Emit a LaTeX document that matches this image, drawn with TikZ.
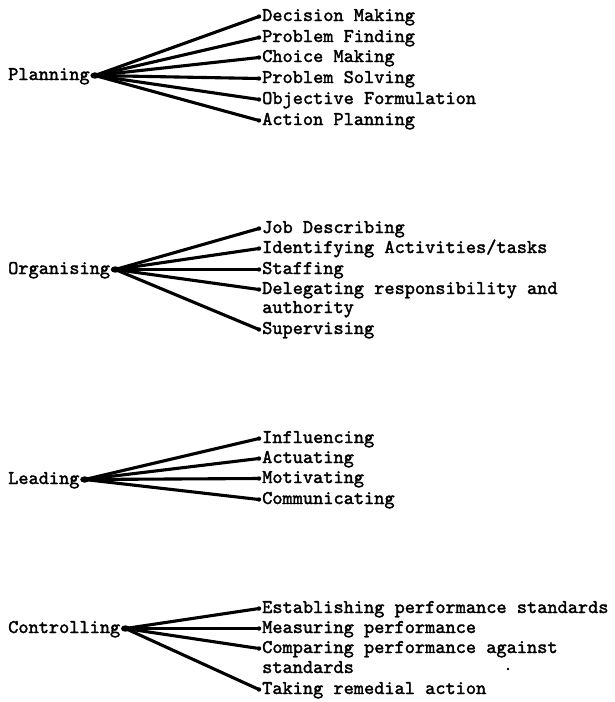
\documentclass[tikz,border=0pt]{standalone}
\usepackage{fontspec}
\newfontfamily\twf{lmmono10-regular}[Extension=.otf, FakeBold=1.8]
\begin{document}
\begin{tikzpicture}[x=1pt,y=-1pt,
  tw/.style={font=\twf\fontsize{19.4}{20}\selectfont},
  lab/.style={tw, inner sep=0pt, anchor=west, text height=9pt, text depth=0pt},
  leaf/.style={tw, inner xsep=3pt, inner ysep=0pt, anchor=west, text height=9pt, text depth=0pt},
  br/.style={line width=3.1pt, line cap=round},
  tipdot/.style={fill=black, circle, inner sep=0pt, minimum size=4.4pt}]
\useasboundingbox (0,0) rectangle (615,702);

% ---------- Planning ----------
\node[lab] (P) at (8,75.5) {Planning};
\coordinate (hP) at ([xshift=5pt]P.east);
\node[leaf] (p1) at (259,16.5) {Decision Making};
\node[leaf] (p2) at (259,37.5) {Problem Finding};
\node[leaf] (p3) at (259,57.5) {Choice Making};
\node[leaf] (p4) at (259,78.5) {Problem Solving};
\node[leaf] (p5) at (259,99.5) {Objective Formulation};
\node[leaf] (p6) at (259,120.5) {Action Planning};
\foreach \n in {p1,p2,p3,p4,p5,p6}{
  \draw[br] (hP) -- (\n.west);
  \node[tipdot] at (\n.west) {};
}
\fill (hP) ellipse (4.5pt and 3.2pt);

% ---------- Organising ----------
\node[lab] (O) at (8,269.5) {Organising};
\coordinate (hO) at ([xshift=5pt]O.east);
\node[leaf] (o1) at (259,228.5) {Job Describing};
\node[leaf] (o2) at (259,248.5) {Identifying Activities/tasks};
\node[leaf] (o3) at (259,269.5) {Staffing};
\node[leaf] (o4) at (259,289.5) {Delegating responsibility and};
\node[leaf] (o4b) at (259,308.5) {authority};
\node[leaf] (o5) at (259,329.5) {Supervising};
\foreach \n in {o1,o2,o3,o4,o5}{
  \draw[br] (hO) -- (\n.west);
  \node[tipdot] at (\n.west) {};
}
\fill (hO) ellipse (4.5pt and 3.2pt);

% ---------- Leading ----------
\node[lab] (L) at (8,479.5) {Leading};
\coordinate (hL) at ([xshift=5pt]L.east);
\node[leaf] (l1) at (259,438.5) {Influencing};
\node[leaf] (l2) at (259,458.5) {Actuating};
\node[leaf] (l3) at (259,478.5) {Motivating};
\node[leaf] (l4) at (259,499.5) {Communicating};
\foreach \n in {l1,l2,l3,l4}{
  \draw[br] (hL) -- (\n.west);
  \node[tipdot] at (\n.west) {};
}
\fill (hL) ellipse (4.5pt and 3.2pt);

% ---------- Controlling ----------
\node[lab] (C) at (8,628.5) {Controlling};
\coordinate (hC) at ([xshift=5pt]C.east);
\node[leaf] (c1) at (259,608.5) {Establishing performance standards};
\node[leaf] (c2) at (259,628.5) {Measuring performance};
\node[leaf] (c3) at (259,648.5) {Comparing performance against};
\node[leaf] (c3b) at (259,668.5) {standards};
\node[leaf] (c4) at (259,689.5) {Taking remedial action};
\foreach \n in {c1,c2,c3,c4}{
  \draw[br] (hC) -- (\n.west);
  \node[tipdot] at (\n.west) {};
}
\fill (hC) ellipse (4.5pt and 3.2pt);

\fill (508,669) circle (1.4pt);
\end{tikzpicture}
\end{document}
